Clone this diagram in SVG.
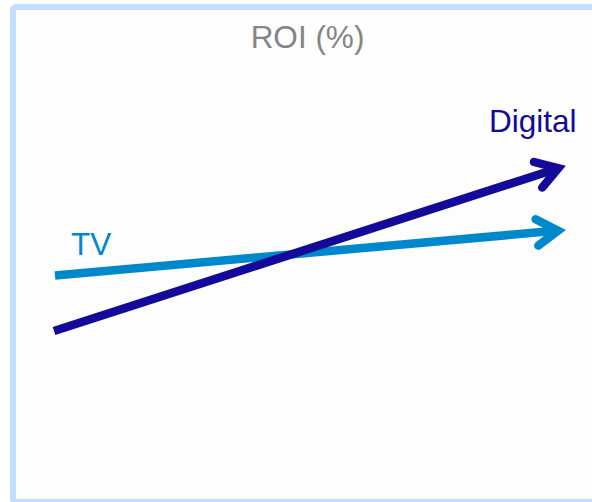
<svg xmlns="http://www.w3.org/2000/svg" width="592" height="502" viewBox="0 0 592 502">
  <style>
    .lbl { font-family: "Liberation Sans", Arial, sans-serif; font-size: 31.5px; }
    .line { fill: none; stroke-width: 8.5; }
    .head { fill: none; stroke-width: 8.5; stroke-linecap: round; stroke-linejoin: miter; stroke-miterlimit: 10; }
  </style>
  <rect x="0" y="0" width="592" height="502" fill="#ffffff"/>
  <g id="frame">
    <rect x="13" y="7" width="600" height="495" rx="3" fill="#fdfdfd" stroke="#c0deff" stroke-width="6"/>
  </g>
  <g id="title">
    <text class="lbl" x="307.5" y="47.5" text-anchor="middle" fill="#858585">ROI (%)</text>
  </g>
  <g id="connectors">
    <g id="tv-arrow" stroke="#0088cc">
      <line class="line" x1="55" y1="275.5" x2="558" y2="230.6"/>
      <polyline class="head" points="535.6,219.2 558,230.6 538.3,245.6"/>
    </g>
    <g id="digital-arrow" stroke="#140a9a">
      <line class="line" x1="54" y1="331" x2="558.3" y2="168.2"/>
      <polyline class="head" points="534,162 558.3,168.2 542.2,187.6"/>
    </g>
  </g>
  <g id="tv-label">
    <text class="lbl" x="71" y="255" fill="#0088cc">TV</text>
  </g>
  <g id="digital-label">
    <text class="lbl" x="489" y="132" fill="#140a9a">Digital</text>
  </g>
</svg>
